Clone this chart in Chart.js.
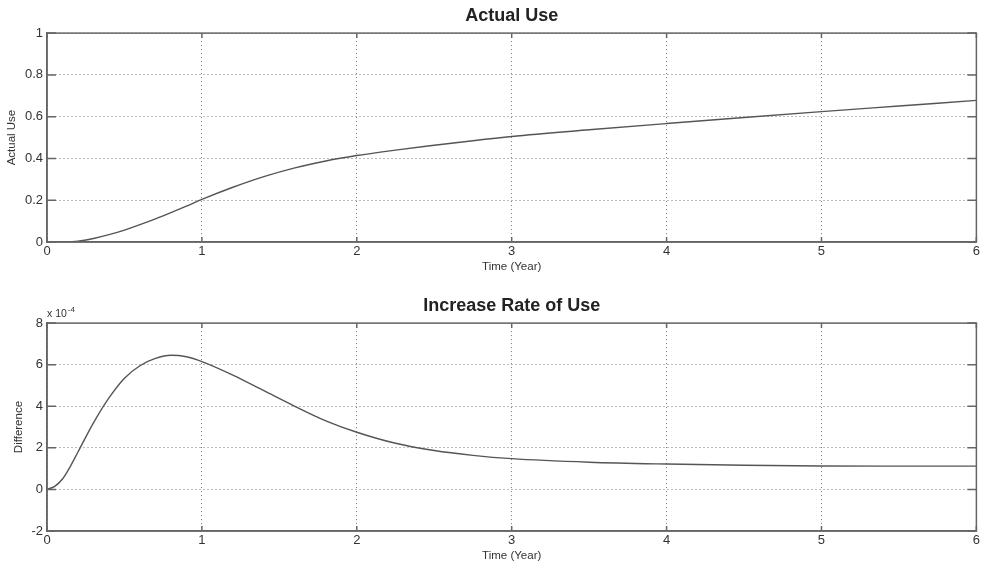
<!DOCTYPE html>
<html>
<head>
<meta charset="utf-8">
<script src="https://cdn.jsdelivr.net/npm/chart.js@4/dist/chart.umd.min.js"></script>
<style>
  html, body { margin: 0; padding: 0; background: #fff; overflow: hidden; }
  body { width: 982px; height: 563px; position: relative; }
  canvas { position: absolute; left: 0; }
  #useChart { top: 0; }
  #rateChart { top: 290px; }
</style>
</head>
<body>
<canvas id="useChart" width="982" height="282"></canvas>
<canvas id="rateChart" width="982" height="281"></canvas>
<script>
// values
const timeTicks = [0, 1, 2, 3, 4, 5, 6];

const useTime = [0, 0.1, 0.2, 0.3, 0.4, 0.5, 0.6, 0.7, 0.8, 0.9, 1, 1.2, 1.4, 1.6, 1.8, 2, 2.25, 2.5, 2.75, 3, 3.5, 4, 4.5, 5, 5.5, 6];
const actualUse = [0, 0.0005, 0.004, 0.017, 0.035, 0.057, 0.083, 0.111, 0.141, 0.172, 0.204, 0.262, 0.313, 0.355, 0.388, 0.414, 0.44, 0.463, 0.485, 0.505, 0.537, 0.567, 0.596, 0.624, 0.651, 0.678];

// difference, in units of 1e-4
const rateTime = [0, 0.05, 0.1, 0.15, 0.2, 0.3, 0.4, 0.5, 0.6, 0.7, 0.8, 0.9, 1, 1.2, 1.4, 1.6, 1.8, 2, 2.25, 2.5, 2.75, 3, 3.5, 4, 4.5, 5, 5.5, 6];
const increaseRate = [0, 0.15, 0.5, 1.1, 1.8, 3.2, 4.4, 5.35, 5.95, 6.3, 6.45, 6.38, 6.15, 5.5, 4.75, 4.0, 3.3, 2.75, 2.22, 1.87, 1.64, 1.48, 1.31, 1.22, 1.16, 1.13, 1.12, 1.12];

const useTicks = [0, 0.2, 0.4, 0.6, 0.8, 1];
const rateTicks = [-2, 0, 2, 4, 6, 8];

const FONT = '"Liberation Sans", Arial, sans-serif';
const TEXT = '#333';
const FRAME = '#666';

// box round the plot plus inward tick marks on all four sides
const framePlugin = {
  id: 'frame',
  afterDraw(chart) {
    const { ctx, chartArea: a, scales } = chart;
    ctx.save();
    ctx.strokeStyle = FRAME;
    ctx.lineWidth = 1.5;
    ctx.strokeRect(a.left, a.top, a.right - a.left, a.bottom - a.top);
    ctx.beginPath();
    scales.x.ticks.forEach(t => {
      const px = scales.x.getPixelForValue(t.value);
      ctx.moveTo(px, a.bottom); ctx.lineTo(px, a.bottom - 5);
      ctx.moveTo(px, a.top); ctx.lineTo(px, a.top + 5);
    });
    scales.y.ticks.forEach(t => {
      const py = scales.y.getPixelForValue(t.value);
      ctx.moveTo(a.left, py); ctx.lineTo(a.left + 9, py);
      ctx.moveTo(a.right, py); ctx.lineTo(a.right - 9, py);
    });
    ctx.stroke();
    const exp = chart.options.plugins.frame && chart.options.plugins.frame.exponent;
    if (exp) {
      ctx.fillStyle = TEXT;
      ctx.textBaseline = 'alphabetic';
      ctx.font = '10.5px ' + FONT;
      ctx.fillText('x 10', a.left, a.top - 6);
      const w = ctx.measureText('x 10').width;
      ctx.font = '8px ' + FONT;
      ctx.fillText(exp, a.left + w + 1, a.top - 11);
    }
    ctx.restore();
  }
};

function makeChart(id, title, yLabel, xs, ys, yTicks, yTitlePad, exponent) {
  const points = xs.map((x, i) => ({ x, y: ys[i] }));
  return new Chart(document.getElementById(id), {
    type: 'line',
    data: {
      datasets: [{
        data: points,
        borderColor: '#555',
        borderWidth: 1.4,
        pointRadius: 0,
        fill: false,
        cubicInterpolationMode: 'monotone'
      }]
    },
    options: {
      responsive: false,
      animation: false,
      layout: { padding: { right: 5 } },
      plugins: {
        legend: { display: false },
        tooltip: { enabled: false },
        title: {
          display: true,
          text: title,
          fullSize: false,
          color: '#222',
          font: { family: FONT, size: 18, weight: 'bold' },
          padding: { top: 5.5, bottom: 6 }
        },
        frame: { exponent }
      },
      scales: {
        x: {
          type: 'linear',
          min: timeTicks[0],
          max: timeTicks[timeTicks.length - 1],
          afterFit: s => { s.height = 40; },
          afterBuildTicks: s => { s.ticks = timeTicks.map(v => ({ value: v })); },
          ticks: { color: TEXT, font: { family: FONT, size: 13 }, padding: 2, maxRotation: 0, callback: v => String(v) },
          grid: { color: '#777', lineWidth: 1, drawTicks: false },
          border: { color: FRAME, width: 1.5, dash: [1, 3] },
          title: {
            display: true,
            text: 'Time (Year)',
            color: TEXT,
            font: { family: FONT, size: 11.5 },
            padding: { top: 0, bottom: 8.4 }
          }
        },
        y: {
          min: yTicks[0],
          max: yTicks[yTicks.length - 1],
          afterFit: s => { s.width = 47; },
          afterBuildTicks: s => { s.ticks = yTicks.map(v => ({ value: v })); },
          ticks: { color: TEXT, font: { family: FONT, size: 13 }, padding: 4, callback: v => String(v) },
          grid: { color: '#777', lineWidth: 1, drawTicks: false },
          border: { color: FRAME, width: 1.5, dash: [1, 3] },
          title: {
            display: true,
            text: yLabel,
            color: TEXT,
            font: { family: FONT, size: 11.5 },
            padding: { top: yTitlePad, bottom: 0 }
          }
        }
      }
    },
    plugins: [framePlugin]
  });
}

makeChart('useChart', 'Actual Use', 'Actual Use', useTime, actualUse, useTicks, 5.4, null);
makeChart('rateChart', 'Increase Rate of Use', 'Difference', rateTime, increaseRate, rateTicks, 12, '-4');
</script>
</body>
</html>
